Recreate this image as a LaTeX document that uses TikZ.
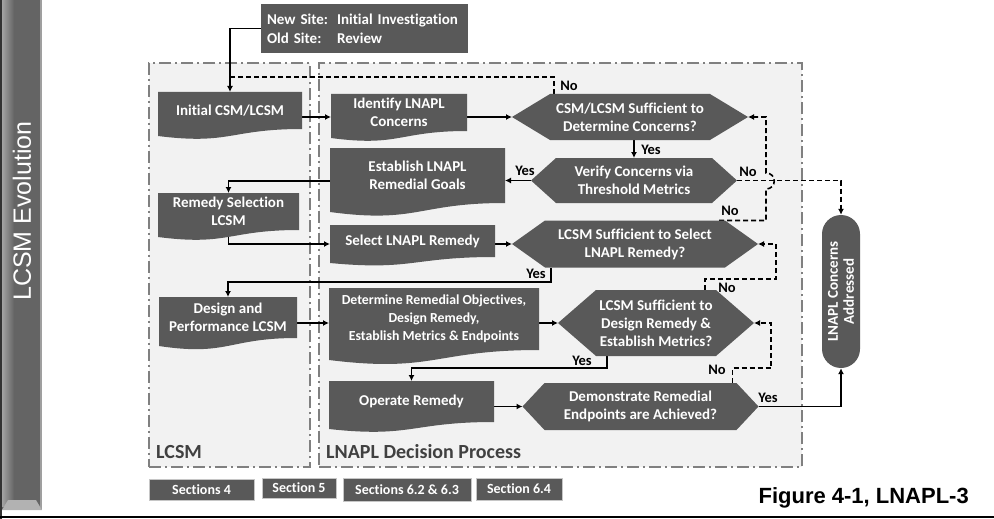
\documentclass[tikz,border=0pt]{standalone}
\usepackage{fontspec}
\setmainfont{Carlito}[RawFeature={-liga}]
\newfontfamily\arialfont{Liberation Sans}
\usetikzlibrary{arrows.meta,calc}
\definecolor{boxgray}{RGB}{89,89,89}
\definecolor{framefill}{RGB}{242,242,242}
\definecolor{framedraw}{RGB}{128,128,128}
\definecolor{labgray}{RGB}{64,64,64}
\definecolor{barmid}{RGB}{100,100,100}
\pgfdeclarelayer{bg}\pgfdeclarelayer{lines}\pgfdeclarelayer{boxes}
\pgfsetlayers{bg,lines,boxes,main}
\newcommand\bxfont{\fontsize{15}{18}\selectfont\bfseries}
\tikzset{
 docbox/.style={text=white, font=\bxfont, align=center, inner sep=0pt, outer sep=0pt},
 hexbox/.style={text=white, font=\bxfont, align=center, inner sep=0pt, outer sep=0pt},
 arr/.style={line width=1.6pt, -{Latex[length=6pt,width=6pt]}},
 dsh/.style={line width=1.6pt, dash pattern=on 5pt off 3pt},
 lbl/.style={font=\fontsize{14.5}{16}\selectfont\bfseries, inner sep=0pt, text=black},
 frame/.style={draw=framedraw, fill=framefill, line width=1.4pt, dash pattern=on 12pt off 4pt on 2pt off 4pt, inner sep=0pt},
 framelbl/.style={font=\fontsize{20}{22}\selectfont\bfseries, text=labgray, inner sep=0pt},
 secbox/.style={fill=boxgray, draw=gray!45, line width=1pt, text=white, font=\fontsize{14}{16}\selectfont\bfseries, inner sep=0pt},
}
% document-shaped box: name, extra style, x1, y1, x2, y2 (rect bottom), wave depth, text
\newcommand\docb[8]{%
 \node[docbox,#2,minimum width={#5-#3},minimum height={#6-#4}] (#1) at ({(#3+#5)/2},{(#4+#6)/2}) {#8};
 \begin{pgfonlayer}{boxes}
 \fill[boxgray] (#1.north west) -- (#1.north east) -- (#1.south east) .. controls (#1.south) and ($(#1.south)+(0,{2.3*#7})$) .. ($(#1.south west)+(0,#7)$) -- cycle;
 \end{pgfonlayer}
}
% hexagon decision: name, extra style, cx, cy, half body width, half height, tip, text
\newcommand\hexa[8]{%
 \node[hexbox,#2,minimum width={2*#5},minimum height={2*#6}] (#1) at (#3,#4) {#8};
 \coordinate (#1w) at ($(#1.west)+(-#7,0)$);
 \coordinate (#1e) at ($(#1.east)+(#7,0)$);
 \begin{pgfonlayer}{boxes}
 \fill[boxgray] (#1.north west) -- (#1.north east) -- (#1e) -- (#1.south east) -- (#1.south west) -- (#1w) -- cycle;
 \end{pgfonlayer}
}
\begin{document}
\begin{tikzpicture}[x=1pt,y=-1pt]
\useasboundingbox (0,0) rectangle (994,519);
% left bar
\fill[barmid] (0,0) rectangle (42,510);
\shade[left color=black!35, right color=barmid] (1.5,0) rectangle (14,506);
\fill[gray!75] (39.5,0) rectangle (42,510);
\fill[black!80] (0,0) rectangle (1.8,519);
\fill[gray!60] (2,510) -- (42,510) -- (36,500) -- (8,500) -- cycle;
\node[rotate=90, text=white, font=\arialfont\fontsize{25}{30}\selectfont, inner sep=0pt] (evo) at (22,211) {LCSM Evolution};
\draw[line width=1.5pt] (0,517) -- (994,517);

% frames
\begin{pgfonlayer}{bg}
\node[frame, minimum width=161, minimum height=404] (flcsm) at (229.5,265) {};
\node[frame, minimum width=483, minimum height=404] (flnapl) at (560.5,265) {};
\end{pgfonlayer}
\node[framelbl, anchor=base west] (lab1) at (156,458) {LCSM};
\node[framelbl, anchor=base west] (lab2) at (326,458) {LNAPL Decision Process};

% top box
\node[fill=boxgray, text=white, font=\fontsize{15}{19}\selectfont\bfseries, minimum width=207, minimum height=49, text width=195, align=left, inner sep=6pt] (top) at (364.5,28.5) {\makebox[70pt][l]{New Site:}Initial Investigation\\\makebox[70pt][l]{Old Site:}Review};

% LCSM column
\docb{init}{}{158}{92}{302}{129}{7}{Initial CSM/LCSM}
\docb{remsel}{}{158}{193}{299}{230}{7}{Remedy Selection\\LCSM}
\docb{design}{}{159}{297}{297}{338}{8}{Design and\\Performance LCSM}

% decision process boxes
\docb{ident}{}{331}{94}{467}{131}{7}{Identify LNAPL\\Concerns}
\docb{est}{}{330}{148}{505}{203}{9}{Establish LNAPL\\Remedial Goals}
\docb{sel}{}{330}{225}{495}{257}{6}{Select LNAPL Remedy}
\docb{det}{font=\fontsize{13.8}{18}\selectfont\bfseries}{329}{288}{539}{350}{10}{Determine Remedial Objectives,\\Design Remedy,\\Establish Metrics \& Endpoints}
\docb{op}{}{329}{381}{494}{422}{7}{Operate Remedy}

% decisions
\hexa{d1}{}{630}{117}{80}{23}{38}{CSM/LCSM Sufficient to\\Determine Concerns?}
\hexa{d2}{}{634}{180.5}{78}{22.5}{25}{Verify Concerns via\\Threshold Metrics}
\hexa{d3}{}{635}{244}{90}{23.5}{33}{LCSM Sufficient to Select\\LNAPL Remedy?}
\hexa{d4}{}{656}{323}{60}{33}{38}{LCSM Sufficient to\\Design Remedy \&\\Establish Metrics?}
\hexa{d5}{}{640.5}{406.5}{96}{23.5}{22}{Demonstrate Remedial\\Endpoints are Achieved?}

% terminal
\node[fill=boxgray, text=white, font=\fontsize{15}{16}\selectfont\bfseries, rounded corners=19pt, minimum width=153, minimum height=38, inner sep=0pt, align=center, rotate=90] (addr) at (841,291.5) {LNAPL Concerns\\Addressed};

% sections
\node[secbox, minimum width=105, minimum height=21] (s4) at (201.5,489.5) {Sections 4};
\node[secbox, minimum width=74, minimum height=20] (s5) at (299,488) {Section 5};
\node[secbox, minimum width=128, minimum height=23] (s62) at (407,489.5) {Sections 6.2 \& 6.3};
\node[secbox, minimum width=86, minimum height=22] (s64) at (519,489) {Section 6.4};

\node[anchor=base east, font=\arialfont\fontsize{22}{24}\selectfont\bfseries, inner sep=0pt] (cap) at (969,503) {Figure 4-1, LNAPL-3};

% helper coordinates
\coordinate (d1no) at ($(d1.north west)+(4,0)$);
\coordinate (jn) at (230,77);
\coordinate (yes3) at (551,282);
\coordinate (yes4) at (607,368);
\coordinate (n3a) at (766,220.5);
\coordinate (n3b) at (766,189);
\coordinate (n3c) at (766,173);
\coordinate (n4a) at (776,279);
\coordinate (n5a) at (771,368);

\begin{pgfonlayer}{lines}
\draw[arr] (top.west) -| (init.north);
\draw[dsh] (d1no) |- (jn);
\draw[arr] (init.east |- d1w) -- (ident.west |- d1w);
\draw[arr] (ident.east |- d1w) -- (d1w);
\draw[arr] (d2.north |- d1.south) -- (d2.north);
\draw[arr] (d2w) -- (est.east |- d2w);
\draw[arr] ($(est.west)+(0,5.5)$) -| (remsel.north);
\draw[arr] (remsel.south) |- (sel.west |- d3w);
\draw[arr] (sel.east |- d3w) -- (d3w);
\draw[arr] ($(d3.south west)+(6,0)$) -- (yes3) -| (design.north);
\draw[arr] (design.east |- d4w) -- (det.west |- d4w);
\draw[arr] (det.east |- d4w) -- (d4w);
\draw[arr] ($(d4.south west)+(11,0)$) -- (yes4) -| (op.north);
\draw[arr] (op.east |- d5w) -- (d5w);
\draw[arr] (d5e) -| (addr.west);
\draw[dsh,arr] (d2e) -| (addr.east);
\draw[dsh,arr] ($(d3.north east)+(-6,0)$) -- (n3a) -- (n3b) .. controls +(11,0) and +(11,0) .. (n3c) -- (n3a |- d1e) -- (d1e);
\draw[dsh,arr] ($(d4.north east)+(-11,0)$) |- (n4a) |- (d3e);
\draw[dsh,arr] ($(d5.north east)+(-4,0)$) |- (n5a) |- (d4e);
\end{pgfonlayer}

% connector labels
\node[lbl] (lno1) at (569,86) {No};
\node[lbl] (lyes1) at (651,150) {Yes};
\node[lbl] (lyes2) at (525,171) {Yes};
\node[lbl] (lno2) at (748,172) {No};
\node[lbl] (lno3) at (730,211) {No};
\node[lbl] (lyes3) at (536,274) {Yes};
\node[lbl] (lno4) at (727,288) {No};
\node[lbl] (lyes4) at (582,361) {Yes};
\node[lbl] (lno5) at (717,370) {No};
\node[lbl] (lyes5) at (768,398) {Yes};
\end{tikzpicture}
\end{document}
